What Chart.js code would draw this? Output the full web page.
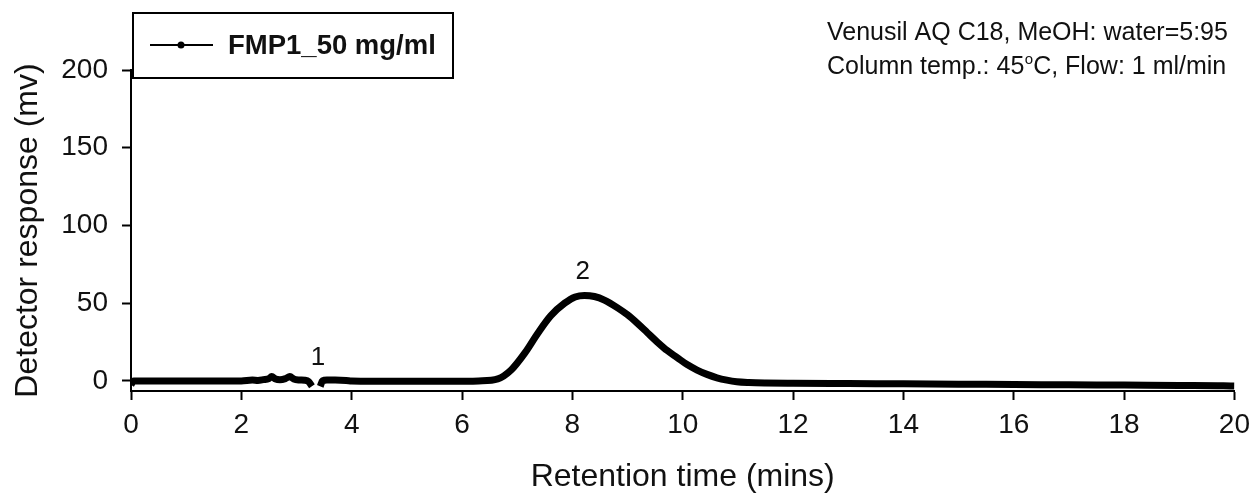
<!DOCTYPE html>
<html>
<head>
<meta charset="utf-8">
<script src="https://cdn.jsdelivr.net/npm/chart.js@4.4.0/dist/chart.umd.min.js"></script>
<style>
  html, body { margin: 0; padding: 0; background: #fff; }
  #chart-box { width: 1258px; height: 497px; }
</style>
</head>
<body>
<div id="chart-box"><canvas id="chromatogram"></canvas></div>
<script>
// Dados do cromatograma: tempo de retenção (min) x resposta do detector (mV)
const tempos = [
  0.0, 0.05, 0.5, 1.0, 1.5, 2.0, 2.2, 2.3, 2.4, 2.5, 2.55, 2.62, 2.7, 2.8, 2.88, 2.95,
  3.05, 3.15, 3.22, 3.28, 3.32, 3.40, 3.43, 3.47, 3.55, 3.7, 3.9, 4.0, 4.5, 5.0, 5.5,
  6.0, 6.3, 6.65, 6.89, 7.14, 7.38, 7.61, 7.86, 8.05, 8.22, 8.4, 8.58, 8.82, 9.0, 9.18,
  9.36, 9.54, 9.72, 9.9, 10.08, 10.26, 10.44, 10.62, 10.8, 10.98, 11.2, 11.5, 12, 13,
  14, 15, 16, 17, 18, 19, 19.8, 20
];
const respostas = [
  -2.5, 0, 0, 0, 0, 0, 0.5, 0.3, 0.8, 1.5, 2.8, 1.2, 0.8, 1.5, 2.8, 1.2,
  0.6, 0.4, -0.5, -3.5, null, null, -3.5, 0, 0.5, 0.5, 0.3, 0, -0.2, -0.3, -0.3,
  -0.2, 0, 1.3, 7, 18, 31, 42, 50, 54, 55, 54.3, 52, 47, 42.5, 37,
  31, 25, 19.5, 15, 10.5, 7, 4.2, 2, 0.5, -0.5, -1, -1.3, -1.5, -1.7,
  -1.9, -2.1, -2.3, -2.5, -2.7, -2.9, -3.1, -3.3
];
const serieNome = 'FMP1_50 mg/ml';

// Eixos
const xTicks = [0, 2, 4, 6, 8, 10, 12, 14, 16, 18, 20];
const yTicks = [0, 50, 100, 150, 200];

// Numeração dos picos (posição em tempo / mV)
const picoNomes = ['1', '2'];
const picoTempos = [3.39, 8.19];
const picoAlturas = [14.8, 70];

// Condições da corrida
const condicaoLinha1 = 'Venusil AQ C18, MeOH: water=5:95';
const condicaoLinha2 = ['Column temp.: 45', 'o', 'C, Flow: 1 ml/min'];

const fonte = '"Liberation Sans", Arial, sans-serif';
const pontos = tempos.map((t, i) => ({ x: t, y: respostas[i] }));

// ####################################################################
// Plugin para legenda com moldura, números dos picos e texto das condições
const extras = {
  id: 'extras',
  afterDraw(chart) {
    const ctx = chart.ctx;
    const xs = chart.scales.x;
    const ys = chart.scales.y;
    ctx.save();

    // números dos picos
    ctx.fillStyle = '#111';
    ctx.font = '26px ' + fonte;
    ctx.textAlign = 'center';
    ctx.textBaseline = 'middle';
    for (let i = 0; i < picoNomes.length; i++) {
      ctx.fillText(picoNomes[i], xs.getPixelForValue(picoTempos[i]), ys.getPixelForValue(picoAlturas[i]));
    }

    // legenda
    ctx.fillStyle = '#fff';
    ctx.fillRect(133, 13, 320, 65);
    ctx.strokeStyle = '#000';
    ctx.lineWidth = 2;
    ctx.strokeRect(133, 13, 320, 65);
    ctx.beginPath();
    ctx.moveTo(150, 45);
    ctx.lineTo(213, 45);
    ctx.stroke();
    ctx.beginPath();
    ctx.arc(181, 45, 3.5, 0, Math.PI * 2);
    ctx.fillStyle = '#000';
    ctx.fill();
    ctx.fillStyle = '#111';
    ctx.font = 'bold 27.5px ' + fonte;
    ctx.textAlign = 'left';
    ctx.fillText(serieNome, 228, 46);

    // condições (com o "o" sobrescrito)
    ctx.font = '25px ' + fonte;
    ctx.fillText(condicaoLinha1, 827, 33);
    let x = 827;
    ctx.fillText(condicaoLinha2[0], x, 67);
    x += ctx.measureText(condicaoLinha2[0]).width;
    ctx.font = '15px ' + fonte;
    ctx.fillText(condicaoLinha2[1], x + 0.5, 60);
    x += ctx.measureText(condicaoLinha2[1]).width + 0.5;
    ctx.font = '25px ' + fonte;
    ctx.fillText(condicaoLinha2[2], x, 67);

    ctx.restore();
  }
};

const eixoGrid = {
  display: true,
  drawOnChartArea: false,
  drawTicks: true,
  tickLength: 9,
  tickWidth: 2,
  tickColor: '#000'
};

new Chart(document.getElementById('chromatogram'), {
  type: 'line',
  data: {
    datasets: [{
      label: serieNome,
      data: pontos,
      borderColor: '#000',
      backgroundColor: '#000',
      borderWidth: 7,
      pointRadius: 0,
      cubicInterpolationMode: 'monotone',
      spanGaps: false
    }]
  },
  options: {
    responsive: true,
    maintainAspectRatio: false,
    devicePixelRatio: 1,
    animation: false,
    layout: { padding: { left: 0, right: 18, top: 70, bottom: 0 } },
    plugins: { legend: { display: false }, tooltip: { enabled: false } },
    scales: {
      x: {
        type: 'linear',
        min: 0,
        max: 20,
        afterFit: (s) => { s.height = 106; },
        afterBuildTicks: (s) => { s.ticks = xTicks.map(v => ({ value: v })); },
        grid: eixoGrid,
        border: { display: true, color: '#000', width: 2 },
        ticks: { color: '#111', font: { family: fonte, size: 28 }, padding: 8, maxRotation: 0 },
        title: {
          display: true,
          text: 'Retention time (mins)',
          color: '#111',
          font: { family: fonte, size: 32 },
          padding: { top: 1, bottom: 1 }
        }
      },
      y: {
        min: -6.5,
        max: 200,
        afterFit: (s) => { s.width = 131; },
        afterBuildTicks: (s) => { s.ticks = yTicks.map(v => ({ value: v })); },
        grid: eixoGrid,
        border: { display: true, color: '#000', width: 2 },
        ticks: { color: '#111', font: { family: fonte, size: 28 }, padding: 14 },
        title: {
          display: true,
          text: 'Detector response (mv)',
          color: '#111',
          font: { family: fonte, size: 32 },
          padding: { top: 9, bottom: 9 }
        }
      }
    }
  },
  plugins: [extras]
});
</script>
</body>
</html>
